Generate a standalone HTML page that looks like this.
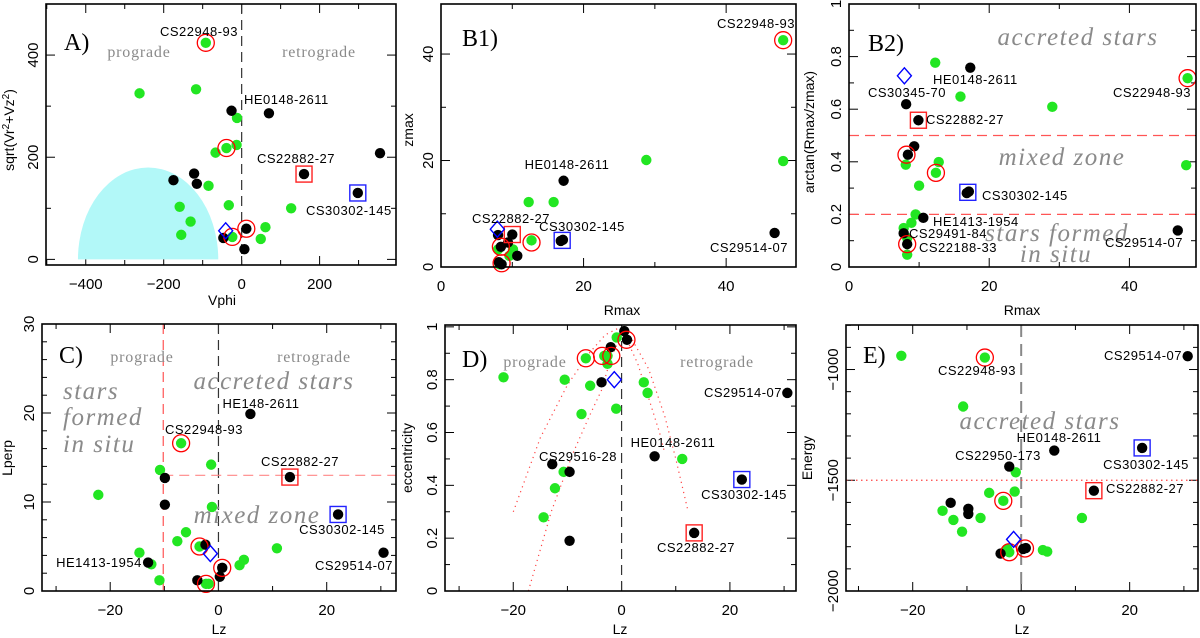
<!DOCTYPE html>
<html><head><meta charset="utf-8"><style>
html,body{margin:0;padding:0;background:#fff;}
svg{display:block;}
.tk{font-family:"Liberation Sans",sans-serif;font-size:15px;fill:#000;}
.lab{font-family:"Liberation Sans",sans-serif;font-size:13px;fill:#000;letter-spacing:0.5px;}
.reg{font-family:"Liberation Serif",serif;font-size:16px;fill:#8a8a8a;letter-spacing:0.8px;}
.big{font-family:"Liberation Serif",serif;font-style:italic;font-size:25px;fill:#8a8a8a;letter-spacing:1.5px;}
.pl{font-family:"Liberation Serif",serif;font-size:24px;fill:#000;}
.at{font-family:"Liberation Sans",sans-serif;font-size:14px;fill:#000;}
</style></head><body>
<svg id="fig" width="1200" height="638" viewBox="0 0 1200 638" xmlns="http://www.w3.org/2000/svg">
<g id="layer"></g>
<g>
<text class="pl" x="64" y="50">A)</text>
<text class="reg" x="139" y="57" text-anchor="middle">prograde</text>
<text class="reg" x="319" y="57" text-anchor="middle">retrograde</text>
<text class="lab" x="199" y="36" text-anchor="middle">CS22948-93</text>
<text class="lab" x="244" y="104">HE0148-2611</text>
<text class="lab" x="296" y="163" text-anchor="middle">CS22882-27</text>
<text class="lab" x="306" y="215">CS30302-145</text>

<text class="pl" x="462" y="46">B1)</text>
<text class="lab" x="756" y="28" text-anchor="middle">CS22948-93</text>
<text class="lab" x="567" y="169" text-anchor="middle">HE0148-2611</text>
<text class="lab" x="511" y="223" text-anchor="middle">CS22882-27</text>
<text class="lab" x="582" y="231" text-anchor="middle">CS30302-145</text>
<text class="lab" x="749" y="252" text-anchor="middle">CS29514-07</text>

<text class="pl" x="868" y="51">B2)</text>
<text class="big" x="1078" y="45" text-anchor="middle">accreted stars</text>
<text class="big" x="1062" y="165" text-anchor="middle">mixed zone</text>
<text class="big" x="1057" y="241" text-anchor="middle">stars formed</text>
<text class="big" x="1056" y="262" text-anchor="middle">in situ</text>
<text class="lab" x="933" y="84">HE0148-2611</text>
<text class="lab" x="907" y="97" text-anchor="middle">CS30345-70</text>
<text class="lab" x="1152" y="97" text-anchor="middle">CS22948-93</text>
<text class="lab" x="926" y="124">CS22882-27</text>
<text class="lab" x="982" y="200">CS30302-145</text>
<text class="lab" x="933" y="226">HE1413-1954</text>
<text class="lab" x="909" y="238">CS29491-84</text>
<text class="lab" x="919" y="252">CS22188-33</text>
<text class="lab" x="1144" y="247" text-anchor="middle">CS29514-07</text>

<text class="pl" x="59" y="363">C)</text>
<text class="reg" x="142" y="362" text-anchor="middle">prograde</text>
<text class="reg" x="314" y="362" text-anchor="middle">retrograde</text>
<text class="big" x="274" y="389" text-anchor="middle">accreted stars</text>
<text class="big" x="63" y="399">stars</text>
<text class="big" x="63" y="425">formed</text>
<text class="big" x="63" y="452">in situ</text>
<text class="big" x="257" y="523" text-anchor="middle">mixed zone</text>
<text class="lab" x="261" y="408" text-anchor="middle">HE148-2611</text>
<text class="lab" x="204" y="434" text-anchor="middle">CS22948-93</text>
<text class="lab" x="300" y="466" text-anchor="middle">CS22882-27</text>
<text class="lab" x="342" y="534" text-anchor="middle">CS30302-145</text>
<text class="lab" x="99" y="567" text-anchor="middle">HE1413-1954</text>
<text class="lab" x="354" y="570" text-anchor="middle">CS29514-07</text>

<text class="pl" x="462" y="367">D)</text>
<text class="reg" x="535" y="367" text-anchor="middle">prograde</text>
<text class="reg" x="717" y="367" text-anchor="middle">retrograde</text>
<text class="lab" x="743" y="397" text-anchor="middle">CS29514-07</text>
<text class="lab" x="673" y="447" text-anchor="middle">HE0148-2611</text>
<text class="lab" x="578" y="461" text-anchor="middle">CS29516-28</text>
<text class="lab" x="744" y="499" text-anchor="middle">CS30302-145</text>
<text class="lab" x="696" y="552" text-anchor="middle">CS22882-27</text>

<text class="pl" x="863" y="363">E)</text>
<text class="big" x="1040" y="429" text-anchor="middle">accreted stars</text>
<text class="lab" x="977" y="375" text-anchor="middle">CS22948-93</text>
<text class="lab" x="1143" y="360" text-anchor="middle">CS29514-07</text>
<text class="lab" x="1059" y="442" text-anchor="middle">HE0148-2611</text>
<text class="lab" x="998" y="460" text-anchor="middle">CS22950-173</text>
<text class="lab" x="1146" y="469" text-anchor="middle">CS30302-145</text>
<text class="lab" x="1106" y="493">CS22882-27</text>

<text class="at" x="222" y="305" text-anchor="middle">Vphi</text>
<text class="at" x="622" y="315" text-anchor="middle">Rmax</text>
<text class="at" x="1022" y="315" text-anchor="middle">Rmax</text>
<text class="at" x="219" y="634" text-anchor="middle">Lz</text>
<text class="at" x="620" y="634" text-anchor="middle">Lz</text>
<text class="at" x="1022" y="634" text-anchor="middle">Lz</text>
<text class="at" transform="translate(14,130) rotate(-90)" text-anchor="middle">sqrt(Vr<tspan dy="-5" font-size="10">2</tspan><tspan dy="5">+Vz</tspan><tspan dy="-5" font-size="10">2</tspan><tspan dy="5">)</tspan></text>
<text class="at" transform="translate(413,130) rotate(-90)" text-anchor="middle">zmax</text>
<text class="at" transform="translate(814,132) rotate(-90)" text-anchor="middle">arctan(Rmax/zmax)</text>
<text class="at" transform="translate(12,458) rotate(-90)" text-anchor="middle">Lperp</text>
<text class="at" transform="translate(412,458) rotate(-90)" text-anchor="middle">eccentricity</text>
<text class="at" transform="translate(812,458) rotate(-90)" text-anchor="middle">Energy</text>
</g>
</svg>
<script>
var aGreenX=[-92,-262,-117,-12,-39,-13,-67,-85,-159,-33,127,-131,61,-24,-155,49];
var aGreenY=[424,325,333,277,218,224,209,144,103,106,100,74,63,44,48,40];
var aBlackX=[-26,70,355,-122,160,-175,-115,298,12,-47,7];
var aBlackY=[291,286,208,168,167,155,148,130,60,42,20];
var aCircX=[-92,-39,12,-24];
var aCircY=[424,218,60,44];
var aRedSqX=[160], aRedSqY=[167];
var aBlueSqX=[298], aBlueSqY=[130];
var aDiaX=[-41], aDiaY=[56];
var aXTicks=[-400,-200,0,200];
var aYTicks=[0,200,400];
var b1GreenX=[48.0,28.8,48.0,12.3,15.8,12.7,10.1,8.0,9.6,8.2];
var b1GreenY=[42.6,20.1,19.9,12.2,12.2,5.0,3.3,3.3,2.1,0.5];
var b1BlackX=[17.2,8.0,10.0,46.8,16.8,17.1,9.4,8.4,10.7,8.1,8.5];
var b1BlackY=[16.2,6.0,6.1,6.4,4.9,5.1,4.6,3.8,2.1,0.9,0.5];
var b1CircX=[48.0,12.7,8.4,8.5];
var b1CircY=[42.6,4.6,3.8,0.7];
var b1RedSqX=[10.0], b1RedSqY=[6.1];
var b1BlueSqX=[17.0], b1BlueSqY=[5.0];
var b1DiaX=[7.9], b1DiaY=[7.1];
var b1XTicks=[0,20,40];
var b1YTicks=[0,20,40];
var b2GreenX=[12.3,48.3,15.9,29.0,8.1,12.8,12.4,48.1,10.0,9.5,8.9,7.8,8.3,8.3];
var b2GreenY=[0.777,0.718,0.648,0.609,0.389,0.399,0.358,0.387,0.309,0.2,0.168,0.148,0.11,0.047];
var b2BlackX=[17.3,8.15,9.9,9.3,8.4,16.8,17.1,10.6,7.8,8.3,46.9];
var b2BlackY=[0.758,0.619,0.558,0.459,0.427,0.281,0.287,0.187,0.128,0.087,0.139];
var b2CircX=[48.3,8.2,12.4,8.3];
var b2CircY=[0.718,0.427,0.358,0.087];
var b2RedSqX=[9.9], b2RedSqY=[0.558];
var b2BlueSqX=[16.95], b2BlueSqY=[0.284];
var b2DiaX=[7.9], b2DiaY=[0.727];
var b2XTicks=[0,20,40];
var b2YTicks=[0,0.2,0.4,0.6,0.8,1];
var b2YTickLabels=["0","0.2","0.4","0.6","0.8","1"];
var cGreenX=[-6.9,-1.35,-10.8,-22.2,-1.2,-6.0,-7.6,-3.5,-14.6,-12.4,10.8,4.7,3.9,-10.9,-2.3,-1.8];
var cGreenY=[16.6,14.2,13.6,10.8,9.45,6.6,5.6,5.0,4.3,3.0,4.8,3.5,2.9,1.2,0.8,0.8];
var cBlackX=[5.9,-9.9,13.2,-9.9,22.1,-2.4,-13.0,30.5,0.7,0.25,-3.9];
var cBlackY=[19.9,12.7,12.8,9.7,8.6,5.2,3.2,4.3,2.6,1.6,1.2];
var cCircX=[-6.9,-3.5,0.7,-2.3];
var cCircY=[16.6,5.0,2.6,0.8];
var cRedSqX=[13.2], cRedSqY=[12.8];
var cBlueSqX=[22.1], cBlueSqY=[8.6];
var cDiaX=[-1.5], cDiaY=[4.2];
var cXTicks=[-20,0,20];
var cYTicks=[0,10,20,30];
var dGreenX=[-21.8,-0.9,-6.6,-3.2,-2.6,-2.6,-10.5,-5.8,4.1,4.8,-1.0,-7.4,11.2,-10.7,-12.3,-14.4];
var dGreenY=[0.809,0.96,0.881,0.89,0.89,0.86,0.80,0.777,0.79,0.75,0.69,0.67,0.50,0.451,0.389,0.279];
var dBlackX=[0.5,1.0,-2.0,-3.7,30.6,6.1,-12.8,-9.6,22.2,13.4,-9.6];
var dBlackY=[0.984,0.951,0.923,0.79,0.75,0.51,0.48,0.451,0.422,0.22,0.19];
var dCircX=[-6.6,-3.6,-1.9,0.9];
var dCircY=[0.881,0.89,0.89,0.951];
var dRedSqX=[13.4], dRedSqY=[0.22];
var dBlueSqX=[22.2], dBlueSqY=[0.422];
var dDiaX=[-1.35], dDiaY=[0.80];
var dCurve1X=[-20,-15,-10,-6,-3,-0.6,2,5,8,10,12.3];
var dCurve1Y=[0.3,0.58,0.78,0.9,0.97,0.995,0.95,0.84,0.66,0.5,0.3];
var dCurve2X=[-17.2,-13,-9,-6,-3.7,-2,-0.5,1,3,5,7,8];
var dCurve2Y=[0,0.3,0.52,0.66,0.76,0.88,0.95,0.95,0.86,0.73,0.6,0.52];
var dXTicks=[-20,0,20];
var dYTicks=[0,0.2,0.4,0.6,0.8,1];
var dYTickLabels=["0","0.2","0.4","0.6","0.8","1"];
var eGreenX=[-22.1,-6.7,-10.7,-1.0,-5.9,-1.2,-3.3,-14.5,-12.5,-7.5,11.2,-10.9,-2.6,-2.2,4.0,4.8];
var eGreenY=[-938,-946,-1167,-1464,-1557,-1551,-1593,-1638,-1679,-1670,-1670,-1732,-1810,-1825,-1815,-1822];
var eBlackX=[30.7,6.1,22.3,-2.2,13.4,-13.0,-9.75,-9.75,0.85,0.37,-3.8];
var eBlackY=[-940,-1366,-1354,-1438,-1547,-1602,-1629,-1652,-1806,-1810,-1831];
var eCircX=[-6.7,-3.3,0.7,-2.2];
var eCircY=[-946,-1593,-1808,-1825];
var eRedSqX=[13.4], eRedSqY=[-1547];
var eBlueSqX=[22.3], eBlueSqY=[-1354];
var eDiaX=[-1.4], eDiaY=[-1767];
var eXTicks=[-20,0,20];
var eYTicks=[-2000,-1500,-1000];

var NS="http://www.w3.org/2000/svg";
var layer=document.getElementById('layer');
function mk(tag,attrs,parent){var e=document.createElementNS(NS,tag);for(var k in attrs)e.setAttribute(k,attrs[k]);(parent||layer).appendChild(e);return e;}

function panel(name,L,R,T,B,x0,x1,y0,y1,xMaj,xMin,yMaj,yMin,xTicks,yTicks,yLabels){
  var p={L:L,R:R,T:T,B:B};
  p.sx=function(v){return L+(v-x0)/(x1-x0)*(R-L);};
  p.sy=function(v){return B-(v-y0)/(y1-y0)*(B-T);};
  var g=mk('g',{});
  
  
  p.g=g;
  var tg=mk('g',{stroke:'#000','stroke-width':1},g);
  var i,v,x,y,len;
  for(v=Math.ceil(x0/xMin)*xMin;v<=x1+1e-9;v+=xMin){
    x=p.sx(v);len=(Math.abs(Math.round(v/xMaj)*xMaj-v)<1e-6)?9:5;
    mk('line',{x1:x,x2:x,y1:B,y2:B-len},tg);mk('line',{x1:x,x2:x,y1:T,y2:T+len},tg);
  }
  for(v=Math.ceil(y0/yMin-1e-9)*yMin;v<=y1+1e-9;v+=yMin){
    y=p.sy(v);len=(Math.abs(Math.round(v/yMaj)*yMaj-v)<1e-6)?9:5;
    mk('line',{x1:L,x2:L+len,y1:y,y2:y},tg);mk('line',{x1:R,x2:R-len,y1:y,y2:y},tg);
  }
  for(i=0;i<xTicks.length;i++){
    var t=mk('text',{'class':'tk',x:p.sx(xTicks[i]),y:B+24,'text-anchor':'middle'},g);
    
    
    t.textContent=String(xTicks[i]).replace('-','\u2212');
  }
  for(i=0;i<yTicks.length;i++){
    var yy=p.sy(yTicks[i]);
    var t2=mk('text',{'class':'tk',transform:'translate('+(L-8)+','+yy+') rotate(-90)','text-anchor':'middle'},g);
    
    
    t2.textContent=(yLabels?yLabels[i]:String(yTicks[i])).replace('-','\u2212');
  }
  return p;
}
function frame(p){
  var f=mk('rect',{x:p.L,y:p.T,width:p.R-p.L,height:p.B-p.T,fill:'none',stroke:'#000','stroke-width':1.6},p.g);
  
  
}
function vline(p,v,color,dash,w,yA,yB){
  var l=mk('line',{x1:p.sx(v),x2:p.sx(v),y1:yA!==undefined?p.sy(yA):p.T,y2:yB!==undefined?p.sy(yB):p.B,stroke:color,'stroke-width':w,'stroke-dasharray':dash},p.g);
  
  
}
function hline(p,v,color,dash,w,xA){
  var l=mk('line',{x1:xA!==undefined?p.sx(xA):p.L,x2:p.R,y1:p.sy(v),y2:p.sy(v),stroke:color,'stroke-width':w,'stroke-dasharray':dash},p.g);
  
  
}
function pts(p,xs,ys,color,nm){
  for(var i=0;i<xs.length;i++){
    var c=mk('circle',{cx:p.sx(xs[i]),cy:p.sy(ys[i]),r:5.2,fill:color},p.g);
    
    
  }
}
function rings(p,xs,ys){
  for(var i=0;i<xs.length;i++){
    var c=mk('circle',{cx:p.sx(xs[i]),cy:p.sy(ys[i]),r:8.5,fill:'none',stroke:'#f00','stroke-width':1.3},p.g);
    
    
  }
}
function squares(p,xs,ys,color,nm){
  for(var i=0;i<xs.length;i++){
    var s=mk('rect',{x:p.sx(xs[i])-8,y:p.sy(ys[i])-8,width:16,height:16,fill:'none',stroke:color,'stroke-width':1.4},p.g);
    
    
  }
}
function diamonds(p,xs,ys){
  for(var i=0;i<xs.length;i++){
    var x=p.sx(xs[i]),y=p.sy(ys[i]);
    var d=mk('polygon',{points:(x-7)+','+y+' '+x+','+(y-8)+' '+(x+7)+','+y+' '+x+','+(y+8),fill:'none',stroke:'#00f','stroke-width':1.4},p.g);
    
    
  }
}
function curve(p,xs,ys){
  var s='';for(var i=0;i<xs.length;i++)s+=(i?'L':'M')+p.sx(xs[i]).toFixed(1)+','+p.sy(ys[i]).toFixed(1);
  var c=mk('path',{d:s,fill:'none',stroke:'#f44','stroke-width':1.2,'stroke-dasharray':'1.2 4'},p.g);
  
  
}
function all(p,gx,gy,bx,by,cx,cy,rx,ry,qx,qy,dx,dy){
  pts(p,gx,gy,'#22e622','green-point');pts(p,bx,by,'#000','black-point');
  rings(p,cx,cy);squares(p,rx,ry,'#f22','red-square');squares(p,qx,qy,'#22f','blue-square');diamonds(p,dx,dy);
}

var pA=panel('panel-a',46,396,4,265,-502,396,-11,500,200,100,200,100,aXTicks,aYTicks);
var ell=mk('path',{d:'M'+pA.sx(-420)+','+pA.sy(0)+' A'+(pA.sx(-240)-pA.sx(-420))+','+(pA.sy(0)-pA.sy(180))+' 0 0 1 '+pA.sx(-60)+','+pA.sy(0)+' Z',fill:'#b2f8f8'},pA.g);


vline(pA,0,'#333','10 6',1.2);
all(pA,aGreenX,aGreenY,aBlackX,aBlackY,aCircX,aCircY,aRedSqX,aRedSqY,aBlueSqX,aBlueSqY,aDiaX,aDiaY);
frame(pA);
var pB1=panel('panel-b1',441,796,4,267,0,49.8,0,49.4,20,10,20,10,b1XTicks,b1YTicks);
all(pB1,b1GreenX,b1GreenY,b1BlackX,b1BlackY,b1CircX,b1CircY,b1RedSqX,b1RedSqY,b1BlueSqX,b1BlueSqY,b1DiaX,b1DiaY);
frame(pB1);
var pB2=panel('panel-b2',849,1196,4,267,0,49.5,0,1,20,10,0.2,0.1,b2XTicks,b2YTicks,b2YTickLabels);
hline(pB2,0.5,'#f55','10 6',1.2);hline(pB2,0.2,'#f55','10 6',1.2);
all(pB2,b2GreenX,b2GreenY,b2BlackX,b2BlackY,b2CircX,b2CircY,b2RedSqX,b2RedSqY,b2BlueSqX,b2BlueSqY,b2DiaX,b2DiaY);
frame(pB2);
var pC=panel('panel-c',42,396,324,591,-32.6,32.8,0,30,20,10,10,2,cXTicks,cYTicks);
vline(pC,0,'#333','10 6',1.2);
vline(pC,-10.2,'#f55','10 6',1.2);
hline(pC,13,'#f88','10 6',1.2,-10.2);
all(pC,cGreenX,cGreenY,cBlackX,cBlackY,cCircX,cCircY,cRedSqX,cRedSqY,cBlueSqX,cBlueSqY,cDiaX,cDiaY);
frame(pC);
var pD=panel('panel-d',445,796,325,591,-32.6,32.2,0,1.007,20,10,0.2,0.1,dXTicks,dYTicks,dYTickLabels);
vline(pD,0,'#333','10 6',1.2);
curve(pD,dCurve1X,dCurve1Y);curve(pD,dCurve2X,dCurve2Y);
all(pD,dGreenX,dGreenY,dBlackX,dBlackY,dCircX,dCircY,dRedSqX,dRedSqY,dBlueSqX,dBlueSqY,dDiaX,dDiaY);
frame(pD);
var pE=panel('panel-e',846,1198,325,591,-32.3,32.6,-2000,-799,20,10,500,100,eXTicks,eYTicks);
vline(pE,0,'#888','12 7',2);
hline(pE,-1500,'#f44','1.5 3.5',1.3);
all(pE,eGreenX,eGreenY,eBlackX,eBlackY,eCircX,eCircY,eRedSqX,eRedSqY,eBlueSqX,eBlueSqY,eDiaX,eDiaY);
frame(pE);
</script>
</body></html>
